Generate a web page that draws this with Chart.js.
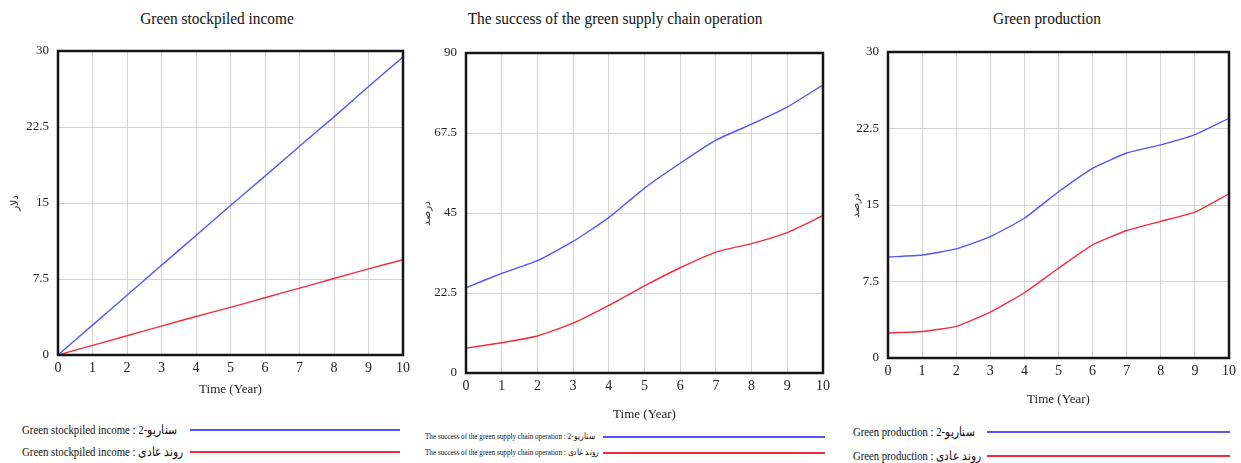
<!DOCTYPE html>
<html>
<head>
<meta charset="utf-8">
<script src="https://cdn.jsdelivr.net/npm/chart.js@4.4.1/dist/chart.umd.min.js"></script>
<style>
  body { margin: 0; background: #fff; width: 1241px; height: 463px; overflow: hidden; position: relative; font-family: "Liberation Serif", "DejaVu Serif", serif; }
  canvas { position: absolute; top: 0; }
  .title { position: absolute; top: 10px; font-size: 16px; color: #111; white-space: nowrap; transform: translateX(-50%) scaleX(0.96); }
  .leg { position: absolute; white-space: nowrap; color: #111; line-height: 1; transform-origin: left center; }
</style>
</head>
<body>
<div class="title" style="left:217px">Green stockpiled income</div>
<div class="title" style="left:615px">The success of the green supply chain operation</div>
<div class="title" style="left:1047px">Green production</div>

<canvas id="c1" width="415" height="400" style="left:0px"></canvas>
<canvas id="c2" width="420" height="425" style="left:415px"></canvas>
<canvas id="c3" width="406" height="410" style="left:835px"></canvas>

<div id="legends"></div>

<script>
// x values (years)
const years = [0, 1, 2, 3, 4, 5, 6, 7, 8, 9, 10];

// Green stockpiled income
const incomeScenario2 = [0, 2.95, 5.9, 8.85, 11.8, 14.75, 17.65, 20.6, 23.5, 26.5, 29.4];
const incomeNormal = [0, 0.95, 1.9, 2.85, 3.8, 4.7, 5.65, 6.6, 7.55, 8.5, 9.4];

// The success of the green supply chain operation
const successScenario2 = [24, 28, 31.6, 37, 43.7, 52, 59, 65.5, 70, 74.8, 81];
const successNormal = [7, 8.5, 10.4, 14, 19, 24.5, 29.6, 34, 36.4, 39.5, 44.3];

// Green production
const prodScenario2 = [9.9, 10.1, 10.7, 11.9, 13.7, 16.3, 18.6, 20.1, 20.9, 21.9, 23.5];
const prodNormal = [2.45, 2.6, 3.1, 4.5, 6.4, 8.8, 11.1, 12.5, 13.4, 14.3, 16.1];

const blue = 'rgb(85,85,245)';
const red = 'rgb(240,45,60)';
const serif = '"Liberation Serif", "DejaVu Serif", serif';

// box round the plot area
const framePlugin = {
    id: 'frame',
    afterDraw(chart) {
        const a = chart.chartArea, ctx = chart.ctx;
        ctx.save();
        ctx.strokeStyle = '#151515';
        ctx.lineWidth = 2.5;
        ctx.strokeRect(a.left, a.top, a.right - a.left, a.bottom - a.top);
        ctx.restore();
    }
};

function pts(vals) { return years.map((x, i) => ({ x, y: vals[i] })); }

function makeChart(id, s2, norm, yMax, yStep, yTitle, pad, yWidth, xHeight) {
    return new Chart(document.getElementById(id).getContext('2d'), {
        type: 'line',
        data: {
            datasets: [
                { data: pts(s2), borderColor: blue, borderWidth: 1.4, pointRadius: 0, tension: 0.15 },
                { data: pts(norm), borderColor: red, borderWidth: 1.4, pointRadius: 0, tension: 0.15 }
            ]
        },
        options: {
            responsive: false,
            devicePixelRatio: 1,
            animation: false,
            layout: { padding: pad },
            plugins: { legend: { display: false }, tooltip: { enabled: false }, title: { display: false } },
            scales: {
                x: {
                    type: 'linear', min: 0, max: 10,
                    ticks: { stepSize: 1, color: '#222', font: { family: serif, size: 14 }, padding: 5, maxRotation: 0 },
                    grid: { color: '#d4d4d4', drawTicks: false },
                    border: { display: false },
                    title: { display: true, text: 'Time (Year)', color: '#222', font: { family: serif, size: 13 }, padding: { top: 0, bottom: 3 } },
                    afterFit(s) { s.height = xHeight; }
                },
                y: {
                    min: 0, max: yMax,
                    ticks: { stepSize: yStep, color: '#222', font: { family: serif, size: 13 }, padding: 9 },
                    grid: { color: '#d4d4d4', drawTicks: false },
                    border: { display: false },
                    title: { display: true, text: yTitle, color: '#333', font: { family: serif, size: 11 }, padding: 0 },
                    afterFit(s) { s.width = yWidth; }
                }
            }
        },
        plugins: [framePlugin]
    });
}

makeChart('c1', incomeScenario2, incomeNormal, 30, 7.5, 'دلار', { top: 51, right: 8, left: 9, bottom: 0 }, 49, 45);
makeChart('c2', successScenario2, successNormal, 90, 22.5, 'درصد', { top: 53, right: 11, left: 6, bottom: 0 }, 45, 52);
makeChart('c3', prodScenario2, prodNormal, 30, 7.5, 'درصد', { top: 52, right: 5, left: 15, bottom: 0 }, 38, 52);

// legends under each panel
const legendRows = [
    { text: 'Green stockpiled income : سناریو-2', color: blue, x: 22, y: 423, size: 13, sx: 0.83, x1: 190, x2: 400 },
    { text: 'Green stockpiled income : روند عادی', color: red, x: 22, y: 445, size: 13, sx: 0.83, x1: 190, x2: 400 },
    { text: 'The success of the green supply chain operation : سناریو-2', color: blue, x: 425, y: 432, size: 8.5, sx: 0.84, x1: 603, x2: 825 },
    { text: 'The success of the green supply chain operation : روند عادی', color: red, x: 425, y: 448, size: 8.5, sx: 0.84, x1: 603, x2: 825 },
    { text: 'Green production : سناریو-2', color: blue, x: 853, y: 425, size: 13, sx: 0.82, x1: 987, x2: 1230 },
    { text: 'Green production : روند عادی', color: red, x: 853, y: 449, size: 13, sx: 0.82, x1: 987, x2: 1230 }
];
const legHost = document.getElementById('legends');
legendRows.forEach(r => {
    const t = document.createElement('div');
    t.className = 'leg';
    t.style.left = r.x + 'px'; t.style.top = r.y + 'px'; t.style.fontSize = r.size + 'px';
    t.style.transform = 'scaleX(' + r.sx + ')';
    t.textContent = r.text;
    legHost.appendChild(t);
    const ln = document.createElement('div');
    ln.className = 'leg';
    ln.style.left = r.x1 + 'px'; ln.style.width = (r.x2 - r.x1) + 'px';
    ln.style.top = (r.y + Math.round(r.size * 0.45)) + 'px';
    ln.style.height = '2px'; ln.style.background = r.color;
    legHost.appendChild(ln);
});
</script>
</body>
</html>
